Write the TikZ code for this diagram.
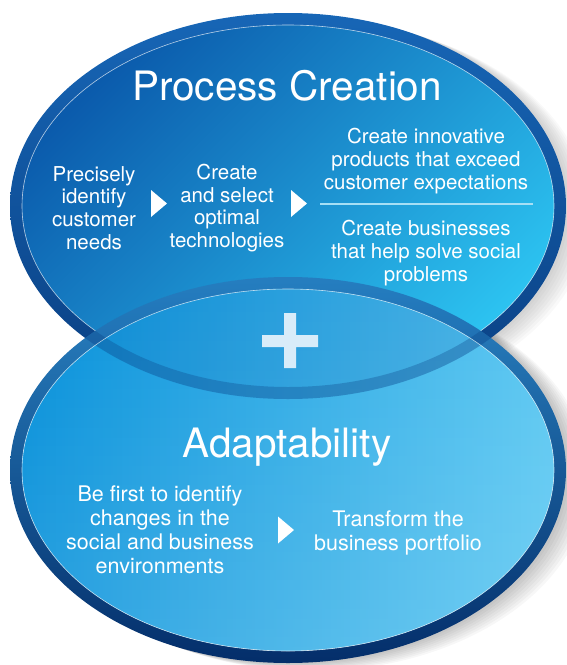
\documentclass[tikz,border=0pt]{standalone}
\usepackage{fontspec}
\setmainfont{TeX Gyre Heros}
\usepackage{tikz}
\usetikzlibrary{positioning}
\usetikzlibrary{calc}
\usetikzlibrary{fadings}
\usepackage{xcolor}
\definecolor{rimtop}{HTML}{1766B6}
\definecolor{rimbot}{HTML}{0A3F82}
\definecolor{pctop}{HTML}{0B5BAC}
\definecolor{pcmid}{HTML}{0A8AD3}
\definecolor{pcbot}{HTML}{2CC2F0}
\definecolor{adrimtop}{HTML}{2A84C4}
\definecolor{adrimbot}{HTML}{042E6A}
\definecolor{addark}{HTML}{0590DA}
\definecolor{admid}{HTML}{0CB2EA}
\definecolor{adlight}{HTML}{5CC8F2}
\definecolor{plusc}{HTML}{D8ECF9}
\definecolor{sepc}{HTML}{A6DFF5}

\begin{document}
\begin{tikzpicture}[x=1pt,y=-1pt,
    txt/.style={text=white,align=center,font=\fontsize{20.5}{22.7}\selectfont},
    txtb/.style={text=white,align=center,font=\fontsize{21.5}{24}\selectfont},
    head/.style={text=white,anchor=base,font=\fontsize{40.5}{46}\selectfont},
    rimline/.style={white,opacity=0.7,line width=0.6pt}]
    \useasboundingbox (0,0) rectangle (566,665);
    \coordinate (pc) at (288,206);
    \coordinate (ad) at (288,470);
    % shadows
    \foreach \s in {3,6,...,24} {
      \fill[black,opacity=0.025] ($(pc)+(\s,\s/3)$) ellipse (278 and 193);
      \fill[black,opacity=0.03] ($(ad)+(\s,\s/3)$) ellipse (278 and 193);
    }
    % process creation
    \shade[top color=rimtop,bottom color=rimbot] (pc) ellipse (278 and 193);
    \shade[top color=pctop,middle color=pcmid,bottom color=pcbot,shading angle=45]
      (pc) ellipse (266 and 181);
    \draw[rimline] (pc) ellipse (266 and 181);
    % adaptability
    \shade[even odd rule,top color=adrimtop,bottom color=adrimbot]
      (ad) ellipse (278 and 193) (ad) ellipse (266 and 181);
    \shade[left color=addark,middle color=admid,right color=adlight]
      (ad) ellipse (266 and 181);
    \fill[white,path fading=north,fill opacity=0.15] (ad) ellipse (266 and 181);
    \begin{scope}
      \clip (ad) ellipse (278 and 193);
      \fill[pctop,opacity=0.15] (pc) ellipse (278 and 193);
      \fill[rimbot,opacity=0.3,even odd rule] (pc) ellipse (278 and 193) (pc) ellipse (266 and 181);
    \end{scope}
    \draw[rimline] (ad) ellipse (266 and 181);
    \fill[plusc] (284,313) rectangle (296,368) (262,335) rectangle (318,347);

    \node[head] (pctitle) at (287,100) {Process Creation};
    \node[txt] (need) at (94,208) {Precisely\\identify\\customer\\needs};
    \node[txt] (tech) at (227,208) {Create\\and select\\optimal\\technologies};
    \node[txt] (innov) at (426,161) {Create innovative\\products that exceed\\customer expectations};
    \node[txt] (social) at (426,253) {Create businesses\\that help solve social\\problems};
    \draw[sepc,line width=1.2pt] (320,204) -- (533,204);

    \node[head] (adtitle) at (287,457) {Adaptability};
    \node[txtb] (first) at (160,530) {Be first to identify\\changes in the\\social and business\\environments};
    \node[txtb] (port) at (398,533) {Transform the\\business portfolio};

    \coordinate (a1) at (159,203.5);
    \coordinate (a2) at (299,203.5);
    \coordinate (a3) at (286,530);
    \foreach \a in {a1,a2,a3}
      \fill[white,shift={(\a)}] (-8,-13.5) -- (8,0) -- (-8,13.5) -- cycle;
  \end{tikzpicture}
\end{document}
